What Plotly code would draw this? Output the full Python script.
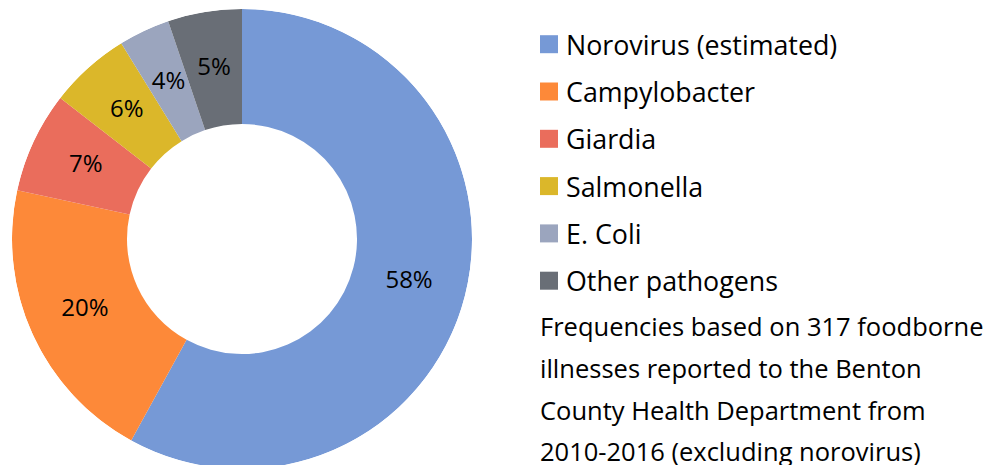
import numpy as np
import plotly.graph_objects as go

labels = ["Norovirus (estimated)", "Campylobacter", "Giardia", "Salmonella", "E. Coli", "Other pathogens"]
values = [58.0, 20.4, 7.1, 5.7, 3.6, 5.2]
colors = ["#7699D6", "#FD8939", "#EA6D5C", "#DBB72A", "#9BA5BE", "#696E76"]
note_lines = [
    "Frequencies based on 317 foodborne",
    "illnesses reported to the Benton",
    "County Health Department from",
    "2010-2016 (excluding norovirus)",
]

W, H = 1002, 470
FONT = "Open Sans"


def px(x):
    return x / W


def py(y):
    return 1 - y / H


cx, cy, R = 242, 239, 230
HOLE = 0.5

# slice geometry derived from the values (degrees, clockwise from 12 o'clock)
vals = np.array(values, dtype=float)
total = vals.sum()
start = np.concatenate([[0.0], np.cumsum(vals)[:-1]])
mid_deg = (start + vals / 2) / total * 360
width_deg = vals / total * 360
pct_text = [f"{round(v / total * 100)}%" for v in vals]

fig = go.Figure()
fig.add_trace(
    go.Barpolar(
        r=[1 - HOLE] * len(vals),
        base=HOLE,
        theta=mid_deg,
        width=width_deg,
        marker=dict(color=colors, line=dict(width=0)),
        customdata=labels,
        hovertemplate="%{customdata}<extra></extra>",
        showlegend=False,
    )
)
fig.add_trace(
    go.Scatterpolar(
        r=[(1 + HOLE) / 2] * len(vals),
        theta=mid_deg,
        mode="text",
        text=pct_text,
        textposition="middle center",
        textfont=dict(family=FONT, size=24, color="black"),
        hoverinfo="skip",
        showlegend=False,
    )
)

shapes = []
annotations = []
row0, step = 44.2, 47.3
for i, (lab, col) in enumerate(zip(labels, colors)):
    yc = row0 + i * step
    shapes.append(dict(type="rect", xref="paper", yref="paper",
                       x0=px(540), x1=px(558), y0=py(yc + 9), y1=py(yc - 9),
                       fillcolor=col, line=dict(width=0)))
    annotations.append(dict(text=lab, xref="paper", yref="paper", x=px(564), y=py(yc),
                            xanchor="left", yanchor="middle", showarrow=False,
                            font=dict(family=FONT, size=26.8, color="black")))

note0, nstep = 326, 41.8
for i, line in enumerate(note_lines):
    annotations.append(dict(text=line, xref="paper", yref="paper", x=px(538), y=py(note0 + i * nstep),
                            xanchor="left", yanchor="middle", showarrow=False,
                            font=dict(family=FONT, size=25.5, color="black")))

fig.update_layout(
    width=W, height=H,
    margin=dict(l=0, r=0, t=0, b=0),
    paper_bgcolor="white", plot_bgcolor="white",
    polar=dict(
        domain=dict(x=[px(cx - R), px(cx + R)], y=[py(cy + R), py(cy - R)]),
        bgcolor="rgba(0,0,0,0)",
        radialaxis=dict(range=[0, 1], visible=False, showgrid=False, showline=False),
        angularaxis=dict(rotation=90, direction="clockwise", visible=False,
                         showgrid=False, showline=False, ticks=""),
        bargap=0,
    ),
    shapes=shapes, annotations=annotations,
    font=dict(family=FONT),
)

fig.write_html(
    "out.html",
    config={"displayModeBar": False},
    post_script="document.body.style.margin='0';document.body.style.overflow='hidden';document.documentElement.style.overflow='hidden';",
)
